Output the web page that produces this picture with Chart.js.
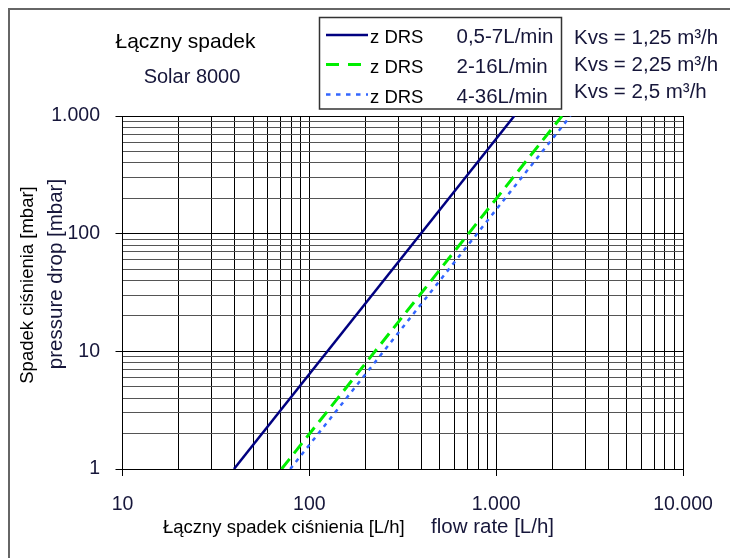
<!DOCTYPE html>
<html>
<head>
<meta charset="utf-8">
<script src="https://cdn.jsdelivr.net/npm/chart.js@4/dist/chart.umd.min.js"></script>
<style>
  html, body { margin: 0; background: #fff; }
  #box { width: 730px; height: 558px; }
</style>
</head>
<body>
<div id="box"><canvas id="c"></canvas></div>
<script>
// ── Daten ───────────────────────────────────────────────────────────────────
// Durchfluss [L/h] und Druckverlust [mbar], je Linie Anfangs- und Endpunkt.
const FLOW_A = [39.5, 1250], DROP_A = [1, 1000];   // 0,5-7 L/min
const FLOW_B = [71, 2250],   DROP_B = [1, 1000];   // 2-16 L/min
const FLOW_C = [79, 2500],   DROP_C = [1, 1000];   // 4-36 L/min

const X_MAJOR = [10, 100, 1000, 10000];
const X_LABELS = ['10', '100', '1.000', '10.000'];
const Y_MAJOR = [1, 10, 100, 1000];
const Y_LABELS = ['1', '10', '100', '1.000'];
const MINOR = [2, 3, 4, 5, 6, 7, 8, 9];

const SERIES_NAME = ['z DRS', 'z DRS', 'z DRS'];
const SERIES_RANGE = ['0,5-7L/min', '2-16L/min', '4-36L/min'];
const KVS_TEXT = ['Kvs = 1,25 m³/h', 'Kvs = 2,25 m³/h', 'Kvs = 2,5 m³/h'];

const TITLE = 'Łączny spadek', SUBTITLE = 'Solar 8000';
const Y_TITLE = ['Spadek ciśnienia [mbar]', 'pressure drop [mbar]'];
const X_TITLE = ['Łączny spadek ciśnienia [L/h]', 'flow rate [L/h]'];

// ── Hilfen ──────────────────────────────────────────────────────────────────
const FONT = '"Liberation Sans", Arial, sans-serif';
const INK = '#16163a';
const pts = (xs, ys) => xs.map((x, i) => ({ x, y: ys[i] }));
// Dekaden plus 2..9 dazwischen, wie auf Logpapier.
const logTicks = majors => {
  const out = [];
  majors.forEach((m, i) => {
    out.push(m);
    if (i < majors.length - 1) MINOR.forEach(k => out.push(m * k));
  });
  return out;
};
const labelOf = (majors, labels) => v => {
  const i = majors.indexOf(v);
  return i < 0 ? '' : labels[i];
};

// Legendenmuster sind etwas laenger gestrichelt als die Kurven.
const LEGEND_DASH = [[], [13, 9], [4.5, 5.5]];

const deco = {
  id: 'deco',
  afterDraw(ch) {
    const { ctx } = ch;
    ctx.save();
    // Rahmen
    ctx.strokeStyle = '#666';
    ctx.lineWidth = 2;
    ctx.strokeRect(9, 9, 760, 600);

    ctx.textBaseline = 'alphabetic';
    ctx.fillStyle = '#000';
    ctx.textAlign = 'center';
    ctx.font = '21px ' + FONT;
    ctx.fillText(TITLE, 185.5, 48);
    ctx.fillStyle = INK;
    ctx.font = '20px ' + FONT;
    ctx.fillText(SUBTITLE, 192, 83);

    // Legende
    ctx.strokeStyle = '#333';
    ctx.lineWidth = 1.5;
    ctx.strokeRect(319.5, 17.5, 242, 91.5);
    const rows = [35, 64.5, 94.5], base = [43, 73, 103];
    ch.data.datasets.forEach((ds, i) => {
      ctx.beginPath();
      ctx.setLineDash(LEGEND_DASH[i]);
      ctx.strokeStyle = ds.borderColor;
      ctx.lineWidth = ds.borderWidth;
      ctx.moveTo(326, rows[i]);
      ctx.lineTo(368, rows[i]);
      ctx.stroke();
      ctx.setLineDash([]);
      ctx.textAlign = 'left';
      ctx.fillStyle = '#000';
      ctx.font = '18.5px ' + FONT;
      ctx.fillText(SERIES_NAME[i], 370, base[i]);
      ctx.fillStyle = INK;
      ctx.font = '20.5px ' + FONT;
      ctx.fillText(SERIES_RANGE[i], 456.5, base[i]);
    });
    [44, 71, 98].forEach((y, i) => ctx.fillText(KVS_TEXT[i], 574, y));

    // Achsentitel: polnisch schwarz, englisch etwas groesser und dunkelblau
    ctx.textAlign = 'center';
    [[33, 285, '#000', 18.5], [62, 274, INK, 20.5]].forEach(([x, y, col, sz], i) => {
      ctx.save();
      ctx.translate(x, y);
      ctx.rotate(-Math.PI / 2);
      ctx.fillStyle = col;
      ctx.font = sz + 'px ' + FONT;
      ctx.fillText(Y_TITLE[i], 0, 0);
      ctx.restore();
    });
    ctx.textAlign = 'left';
    ctx.fillStyle = '#000';
    ctx.font = '18.5px ' + FONT;
    ctx.fillText(X_TITLE[0], 163, 533);
    ctx.fillStyle = INK;
    ctx.font = '20.5px ' + FONT;
    ctx.fillText(X_TITLE[1], 431, 533);
    ctx.restore();
  },
};

new Chart(document.getElementById('c'), {
  type: 'scatter',
  data: {
    datasets: [
      { data: pts(FLOW_A, DROP_A), borderColor: '#000080', borderWidth: 2.5 },
      { data: pts(FLOW_B, DROP_B), borderColor: '#00ee00', borderWidth: 3, borderDash: [13, 7] },
      { data: pts(FLOW_C, DROP_C), borderColor: '#3366ff', borderWidth: 2.5, borderDash: [4, 5] },
    ].map(ds => ({ ...ds, showLine: true, pointRadius: 0, fill: false })),
  },
  options: {
    responsive: true, maintainAspectRatio: false, animation: false,
    layout: { padding: { left: 0, right: 47, top: 116, bottom: 0 } },
    scales: {
      x: {
        type: 'logarithmic', min: 10, max: 10000,
        afterBuildTicks: s => { s.ticks = logTicks(X_MAJOR).map(v => ({ value: v })); },
        afterFit: s => { s.height = 89; },
        ticks: { autoSkip: false, maxRotation: 0, minRotation: 0, padding: 17,
                 color: INK, font: { family: FONT, size: 19.5 },
                 callback: labelOf(X_MAJOR, X_LABELS) },
        grid: { color: '#000', lineWidth: 1, tickLength: 7,
                tickColor: c => X_MAJOR.includes(c.tick && c.tick.value) ? '#000' : 'rgba(0,0,0,0)' },
        border: { color: '#000', width: 1 },
      },
      y: {
        type: 'logarithmic', min: 1, max: 1000,
        afterBuildTicks: s => { s.ticks = logTicks(Y_MAJOR).map(v => ({ value: v })); },
        afterFit: s => { s.width = 122.5; },
        ticks: { autoSkip: false, padding: 15.5, color: INK,
                 font: { family: FONT, size: 19.5 },
                 callback: labelOf(Y_MAJOR, Y_LABELS) },
        grid: { lineWidth: 1, tickLength: 7,
                color: c => Y_MAJOR.includes(c.tick && c.tick.value) ? '#000' : '#555',
                tickColor: c => Y_MAJOR.includes(c.tick && c.tick.value) ? '#000' : 'rgba(0,0,0,0)' },
        border: { color: '#000', width: 1 },
      },
    },
    plugins: { legend: { display: false }, tooltip: { enabled: false } },
  },
  plugins: [deco],
});
</script>
</body>
</html>
